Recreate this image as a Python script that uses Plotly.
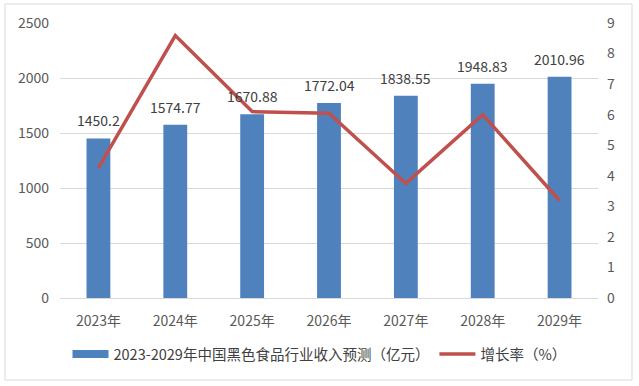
import plotly.graph_objects as go

years = ["2023年", "2024年", "2025年", "2026年", "2027年", "2028年", "2029年"]
revenue = [1450.2, 1574.77, 1670.88, 1772.04, 1838.55, 1948.83, 2010.96]
growth = [4.26, 8.59, 6.10, 6.05, 3.75, 6.00, 3.19]
left_ticks = [0, 500, 1000, 1500, 2000, 2500]
right_ticks = [0, 1, 2, 3, 4, 5, 6, 7, 8, 9]

bar_name = "2023-2029年中国黑色食品行业收入预测（亿元）"
line_name = "增长率（%）"

FONT = "Noto Sans CJK SC, Liberation Sans, sans-serif"
BLUE = "#4F81BD"
RED = "#C0504D"
TICK = "#595959"

fig = go.Figure()
fig.add_trace(go.Bar(
    x=years, y=revenue, name=bar_name, showlegend=False,
    marker=dict(color=BLUE, line=dict(width=0)),
    width=0.31,
))
# legend proxy for the bar series (wide rectangle swatch)
fig.add_trace(go.Scatter(
    x=[years[0]], y=[None], name=bar_name, mode="lines",
    line=dict(color=BLUE, width=8),
))
fig.add_trace(go.Scatter(
    x=years, y=growth, name=line_name, yaxis="y2",
    mode="lines", line=dict(color=RED, width=3.5),
))

# data labels above bars
for yr, v in zip(years, revenue):
    fig.add_annotation(x=yr, y=v, xref="x", yref="y", text=f"{v:g}",
                       showarrow=False, yanchor="bottom", yshift=6,
                       font=dict(size=14, color="#404040", family=FONT))

W, H = 639, 386
ml, mr, mt, mb = 60, 41, 23, 88
pw, ph = W - ml - mr, H - mt - mb

def px(x):
    return (x - ml) / pw

def py(y):
    return 1 - (y - mt) / ph

fig.add_shape(type="rect", xref="paper", yref="paper",
              x0=px(5), x1=px(632), y0=py(380), y1=py(4),
              line=dict(color="#D9D9D9", width=1), fillcolor="rgba(0,0,0,0)")

fig.update_layout(
    width=W, height=H,
    margin=dict(l=ml, r=mr, t=mt, b=mb, autoexpand=False),
    paper_bgcolor="white", plot_bgcolor="white",
    font=dict(family=FONT, size=14, color=TICK),
    showlegend=True,
    legend=dict(orientation="h", xref="container", yref="container",
                x=0.5, xanchor="center", y=1 - 354 / H, yanchor="middle",
                font=dict(size=14.5, color="#404040", family=FONT), itemwidth=36,
                tracegroupgap=0, bgcolor="rgba(0,0,0,0)"),
    xaxis=dict(showgrid=False, showline=True, linecolor="#D9D9D9", ticks="",
               tickfont=dict(size=14, color=TICK), ticklabelstandoff=10),
    yaxis=dict(range=[0, 2500], tickvals=left_ticks, showgrid=True, gridcolor="#D9D9D9",
               zeroline=False, showline=False, ticks="", tickfont=dict(size=14, color=TICK),
               ticklabelstandoff=10),
    yaxis2=dict(range=[0, 9], tickvals=right_ticks, overlaying="y", side="right",
                showgrid=False, zeroline=False, showline=False, ticks="",
                tickfont=dict(size=14, color=TICK), ticklabelstandoff=8),
)

fig.write_html("out.html", config={"displayModeBar": False},
               post_script="document.body.style.margin='0';document.body.style.overflow='hidden';")
